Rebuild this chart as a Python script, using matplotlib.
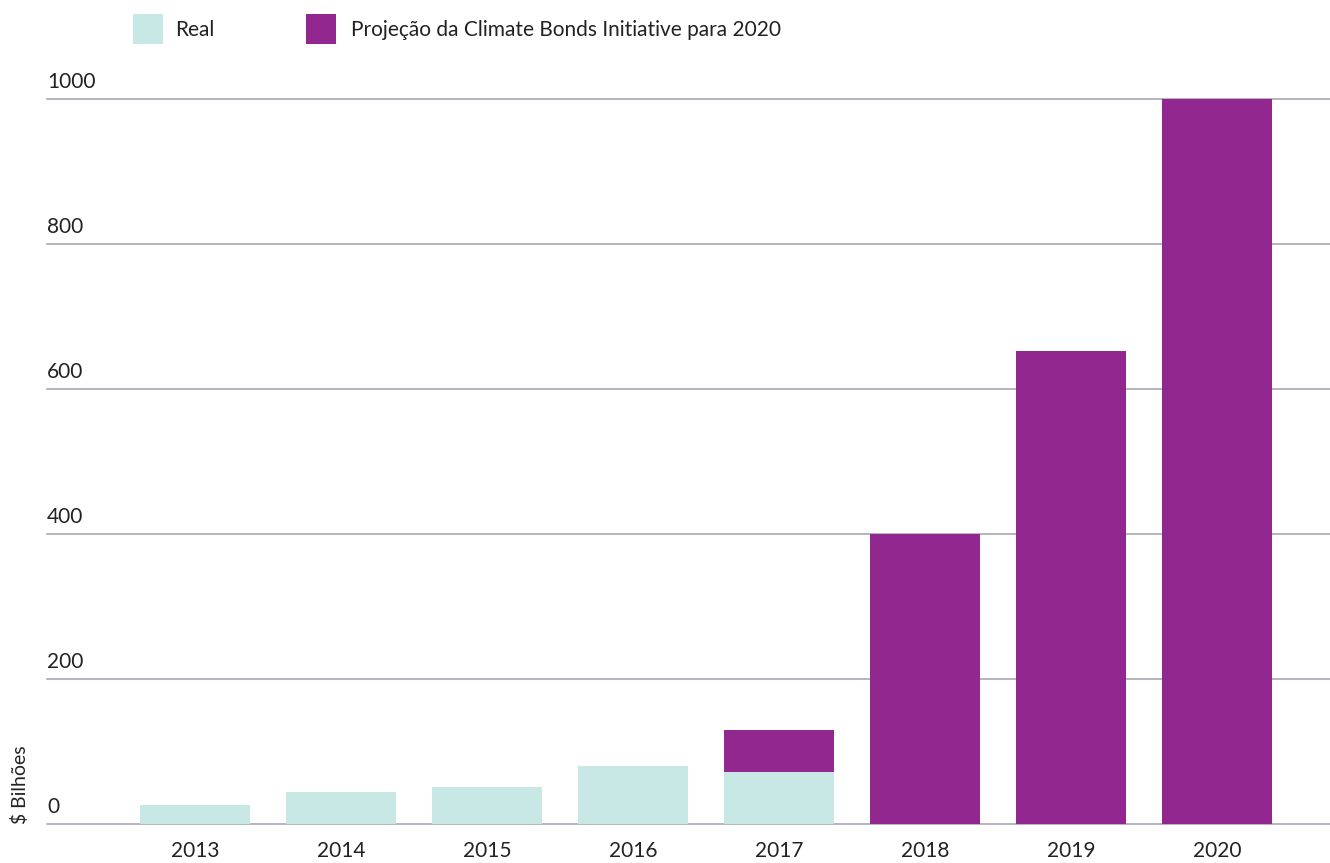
import matplotlib
matplotlib.use('Agg')
import matplotlib.pyplot as plt
from matplotlib.patches import Rectangle
from matplotlib.transforms import blended_transform_factory

# Green bond issuance, $ billions
years = ['2013', '2014', '2015', '2016', '2017', '2018', '2019', '2020']
real = [26, 44, 51, 80, 72, 0, 0, 0]
projection = [0, 0, 0, 0, 58, 400, 652, 1000]
yticks = [0, 200, 400, 600, 800, 1000]

TEAL = '#C8E8E6'
PURPLE = '#92278F'
GRID = '#A39FAD'
TEXT = '#222222'

plt.rcParams['font.family'] = ['Lato', 'DejaVu Sans']

W, H = 1330, 863
fig = plt.figure(figsize=(W / 100, H / 100), dpi=100)
ax = fig.add_axes([47 / W, 39 / H, 1 - 47 / W, (824 - 99) / H])

x = list(range(len(years)))
ax.bar(x, real, width=0.75, color=TEAL, zorder=3)
ax.bar(x, projection, width=0.75, bottom=real, color=PURPLE, zorder=3)

ax.set_xlim(-1.014, 7.774)
ax.set_ylim(0, 1000)

# horizontal rules with the value written just above each one
for v in yticks:
    ax.axhline(v, color=GRID, linewidth=1.1, zorder=1, clip_on=False)
trans = blended_transform_factory(ax.transAxes, ax.transData)
for v in yticks:
    ax.annotate(str(v), xy=(0, v), xycoords=trans, xytext=(0, 5),
                textcoords='offset points', ha='left', va='bottom',
                fontsize=15, color=TEXT)

ax.set_xticks(x)
ax.set_xticklabels(years, fontsize=15, color=TEXT)
ax.tick_params(axis='x', length=0, pad=12)
ax.set_yticks([])
for s in ax.spines.values():
    s.set_visible(False)

fig.text(20 / W, 1 - 785 / H, '$ Bilhões', rotation=90, ha='center',
         va='center', fontsize=14, color=TEXT)

# legend
for (x0, color, label, tx) in [(133, TEAL, 'Real', 175),
                               (306, PURPLE, 'Projeção da Climate Bonds Initiative para 2020', 351)]:
    fig.add_artist(Rectangle((x0 / W, 1 - 44 / H), 30 / W, 30 / H,
                             transform=fig.transFigure, color=color, lw=0))
    fig.text(tx / W, 1 - 30 / H, label, ha='left', va='center',
             fontsize=15, color=TEXT)

fig.savefig('out.png', dpi=100)
